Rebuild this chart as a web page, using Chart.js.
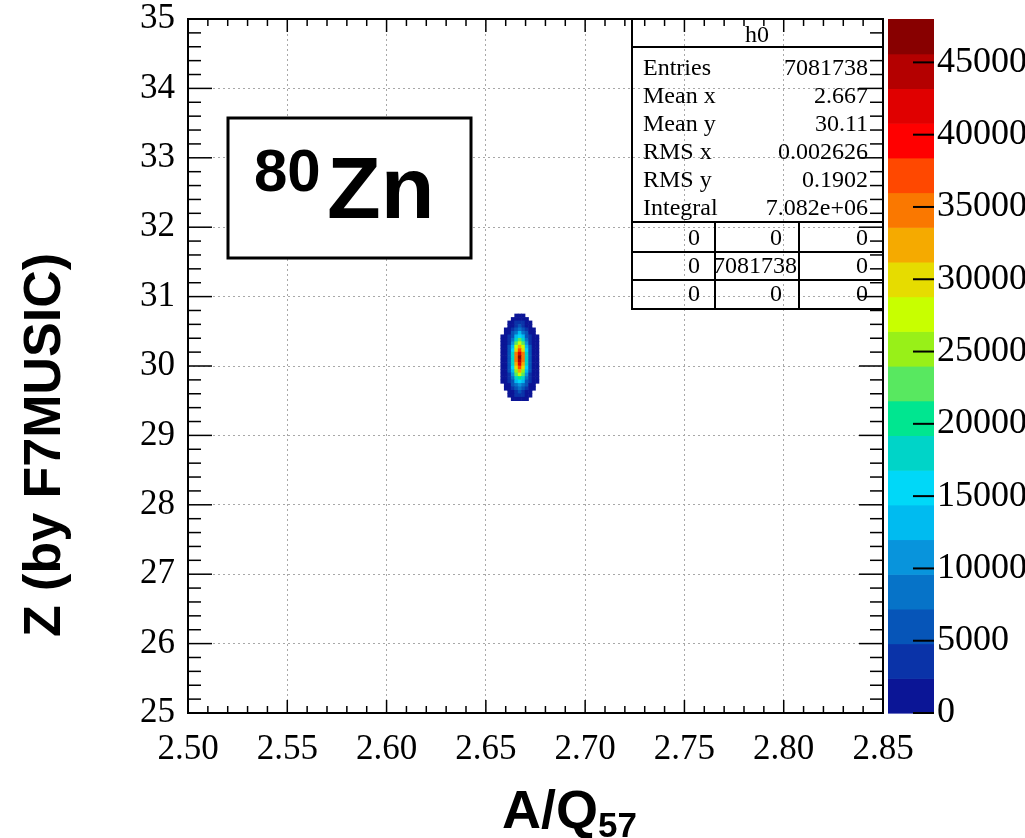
<!DOCTYPE html>
<html>
<head>
<meta charset="utf-8">
<title>80Zn PID</title>
<script src="https://cdn.jsdelivr.net/npm/chart.js@4.4.1/dist/chart.umd.min.js"></script>
<style>
    html, body { margin: 0; padding: 0; background: #fff; }
    #grafico { display: block; }
</style>
</head>
<body>
<canvas id="grafico" width="1025" height="838"></canvas>
<script>
// bin centres of the filled part of the histogram
const xCenters = [2.658375, 2.660125, 2.661875, 2.663625, 2.665375, 2.667125, 2.668875, 2.670625, 2.672375, 2.674125, 2.675875];
const yCenters = [30.725, 30.675, 30.625, 30.575, 30.525, 30.475, 30.425, 30.375, 30.325, 30.275, 30.225, 30.175, 30.125,
                  30.075, 30.025, 29.975, 29.925, 29.875, 29.825, 29.775, 29.725, 29.675, 29.625, 29.575, 29.525];
const binW = 0.00175;
const binH = 0.05;

// counts per bin, rows follow yCenters (top to bottom), columns follow xCenters
const counts = [
    [0, 0, 0, 0, 800, 1200, 800, 0, 0, 0, 0],
    [0, 0, 0, 600, 1500, 2000, 1500, 600, 0, 0, 0],
    [0, 0, 400, 1200, 2600, 3300, 2600, 1200, 400, 0, 0],
    [0, 0, 700, 2000, 4200, 5300, 4200, 2000, 700, 0, 0],
    [0, 300, 1100, 3200, 6500, 8200, 6500, 3200, 1100, 300, 0],
    [0, 500, 1700, 4800, 9400, 12000, 9400, 4800, 1700, 500, 0],
    [200, 700, 2400, 6800, 13200, 16600, 13200, 6800, 2400, 700, 200],
    [300, 1000, 3200, 9000, 17500, 22000, 17500, 9000, 3200, 1000, 300],
    [400, 1300, 4100, 11300, 22000, 27500, 22000, 11300, 4100, 1300, 400],
    [500, 1600, 5000, 13500, 26500, 33000, 26500, 13500, 5000, 1600, 500],
    [600, 1900, 5800, 15600, 30500, 38000, 30500, 15600, 5800, 1900, 600],
    [700, 2100, 6400, 17200, 33800, 42000, 33800, 17200, 6400, 2100, 700],
    [700, 2200, 6700, 18000, 35500, 47500, 35500, 18000, 6700, 2200, 700],
    [700, 2200, 6600, 17800, 35000, 44500, 35000, 17800, 6600, 2200, 700],
    [700, 2100, 6300, 17000, 33200, 41500, 33200, 17000, 6300, 2100, 700],
    [600, 1900, 5700, 15400, 30000, 37500, 30000, 15400, 5700, 1900, 600],
    [500, 1700, 5000, 13400, 26200, 32500, 26200, 13400, 5000, 1700, 500],
    [400, 1400, 4200, 11200, 21800, 27000, 21800, 11200, 4200, 1400, 400],
    [300, 1100, 3300, 8900, 17200, 21500, 17200, 8900, 3300, 1100, 300],
    [200, 800, 2500, 6700, 13000, 16200, 13000, 6700, 2500, 800, 200],
    [0, 600, 1800, 4800, 9300, 11600, 9300, 4800, 1800, 600, 0],
    [0, 400, 1200, 3200, 6300, 7800, 6300, 3200, 1200, 400, 0],
    [0, 0, 700, 2000, 4000, 5000, 4000, 2000, 700, 0, 0],
    [0, 0, 400, 1200, 2400, 3000, 2400, 1200, 400, 0, 0],
    [0, 0, 0, 600, 1300, 1600, 1300, 600, 0, 0, 0]
];

const xRange = [2.50, 2.85];
const yRange = [25, 35];
const zMax = 48000;
const zTicks = [0, 5000, 10000, 15000, 20000, 25000, 30000, 35000, 40000, 45000];
const nLevels = 20;

const palette = ["#0b1596", "#0a33a8", "#0655b8", "#0673c8", "#0894dc", "#00bbf0", "#00d8f8", "#00d4c8", "#00e690", "#58e860",
                 "#98f018", "#c8ff00", "#e6dc00", "#f5aa00", "#fa7800", "#ff4800", "#ff0000", "#e00000", "#b40000", "#880000"];

const histName = "h0";
const statNames = ["Entries", "Mean x", "Mean y", "RMS x", "RMS y", "Integral"];
const statValues = ["7081738", "2.667", "30.11", "0.002626", "0.1902", "7.082e+06"];
const flowTable = [["0", "0", "0"], ["0", "7081738", "0"], ["0", "0", "0"]];

const serif = "'Liberation Serif', 'Times New Roman', serif";
const sans = "'Liberation Sans', Arial, sans-serif";

const puntos = [];
counts.forEach((fila, j) => {
    fila.forEach((v, i) => {
        if (v > 0) puntos.push({ x: xCenters[i], y: yCenters[j], v: v });
    });
});

const esMayorX = v => Math.round(v * 100) % 5 === 0;
const esMayorY = v => Math.abs(v - Math.round(v)) < 1e-6;

function colorNivel(v) {
    const k = Math.min(nLevels - 1, Math.floor(v / (zMax / nLevels)));
    return palette[k];
}

function linea(ctx, x0, y0, x1, y1) {
    ctx.beginPath();
    ctx.moveTo(x0, y0);
    ctx.lineTo(x1, y1);
    ctx.stroke();
}

const decoracion = {
    id: "decoracion",
    afterDraw(chart) {
        const ctx = chart.ctx;
        const a = chart.chartArea;
        const xs = chart.scales.x, ys = chart.scales.y, zs = chart.scales.z;
        ctx.save();

        // nucleus label box
        ctx.fillStyle = "#fff";
        ctx.fillRect(228, 118, 243, 140);
        ctx.strokeStyle = "#000";
        ctx.lineWidth = 3;
        ctx.strokeRect(228, 118, 243, 140);
        ctx.fillStyle = "#000";
        ctx.textAlign = "left";
        ctx.textBaseline = "alphabetic";
        ctx.font = "bold 60px " + sans;
        ctx.fillText("80", 254, 191);
        ctx.font = "bold 88px " + sans;
        ctx.fillText("Zn", 327, 218);

        // stats box
        const sL = 632, sT = a.top, sR = a.right, sB = 309;
        ctx.lineWidth = 2;
        ctx.strokeRect(sL, sT, sR - sL, sB - sT);
        linea(ctx, sL, 47, sR, 47);
        linea(ctx, sL, 222, sR, 222);
        linea(ctx, sL, 252, sR, 252);
        linea(ctx, sL, 280, sR, 280);
        linea(ctx, 715, 222, 715, sB);
        linea(ctx, 799, 222, 799, sB);
        ctx.font = "24px " + serif;
        ctx.textAlign = "center";
        ctx.fillText(histName, 757, 42);
        statNames.forEach((n, i) => {
            const yb = 75 + i * 28;
            ctx.textAlign = "left";
            ctx.fillText(n, 643, yb);
            ctx.textAlign = "right";
            ctx.fillText(statValues[i], 868, yb);
        });
        const colR = [700, 782, 868];
        flowTable.forEach((fila, r) => {
            const yb = 245 + r * 28;
            fila.forEach((t, c) => {
                ctx.textAlign = "right";
                const xr = t.length > 2 ? 797 : colR[c];
                ctx.fillText(t, xr, yb);
            });
        });

        // frame and inward ticks on all four sides
        ctx.strokeStyle = "#000";
        ctx.lineWidth = 2;
        ctx.strokeRect(a.left, a.top, a.right - a.left, a.bottom - a.top);
        ctx.lineWidth = 1.5;
        xs.ticks.forEach(t => {
            const p = xs.getPixelForValue(t.value);
            const l = esMayorX(t.value) ? 13 : 7;
            linea(ctx, p, a.bottom, p, a.bottom - l);
            linea(ctx, p, a.top, p, a.top + l);
        });
        ys.ticks.forEach(t => {
            const p = ys.getPixelForValue(t.value);
            const l = esMayorY(t.value) ? 24 : 13;
            linea(ctx, a.left, p, a.left + l, p);
            linea(ctx, a.right, p, a.right - l, p);
        });

        // colour bar
        const bL = a.right + 5, bR = a.right + 51;
        for (let k = 0; k < nLevels; k++) {
            const y0 = zs.getPixelForValue(k * zMax / nLevels);
            const y1 = zs.getPixelForValue((k + 1) * zMax / nLevels);
            ctx.fillStyle = palette[k];
            ctx.fillRect(bL, y1, bR - bL, y0 - y1 + 0.6);
        }
        ctx.lineWidth = 2;
        zs.ticks.forEach(t => {
            const p = zs.getPixelForValue(t.value);
            linea(ctx, bR - 21, p, bR, p);
        });

        // axis titles
        ctx.fillStyle = "#000";
        ctx.font = "bold 52px " + sans;
        ctx.save();
        ctx.translate(46, 445);
        ctx.rotate(-Math.PI / 2);
        ctx.textAlign = "center";
        ctx.textBaseline = "middle";
        ctx.fillText("Z (by F7MUSIC)", 0, 0);
        ctx.restore();
        ctx.textAlign = "left";
        ctx.textBaseline = "alphabetic";
        ctx.font = "bold 54px " + sans;
        ctx.fillText("A/Q", 502, 828);
        const wAQ = ctx.measureText("A/Q").width;
        ctx.font = "bold 35px " + sans;
        ctx.fillText("57", 502 + wAQ, 837);

        ctx.restore();
    }
};

const grafico = new Chart(document.getElementById("grafico").getContext("2d"), {
    type: "scatter",
    data: {
        datasets: [{
            label: histName,
            data: puntos,
            pointStyle: "rect",
            borderWidth: 0,
            backgroundColor: c => colorNivel(c.raw ? c.raw.v : 0),
            pointRadius: c => {
                const xs = c.chart.scales.x, ys = c.chart.scales.y;
                const w = Math.abs(xs.getPixelForValue(xRange[0] + binW) - xs.getPixelForValue(xRange[0]));
                const h = Math.abs(ys.getPixelForValue(yRange[0] + binH) - ys.getPixelForValue(yRange[0]));
                return (Math.max(w, h) + 0.6) / Math.SQRT2;
            },
            pointHoverRadius: 0
        }]
    },
    options: {
        responsive: false,
        animation: false,
        events: [],
        layout: { padding: { top: 19, left: 0, right: 0, bottom: 0 } },
        plugins: {
            legend: { display: false },
            tooltip: { enabled: false },
            title: { display: false }
        },
        scales: {
            x: {
                type: "linear",
                position: "bottom",
                min: xRange[0],
                max: xRange[1],
                z: 1,
                afterFit: s => { s.height = 125; s.paddingLeft = 0; s.paddingRight = 0; },
                ticks: {
                    stepSize: 0.01,
                    autoSkip: false,
                    maxRotation: 0,
                    minRotation: 0,
                    padding: 16,
                    color: "#000",
                    font: { family: serif, size: 35 },
                    callback: v => esMayorX(v) ? v.toFixed(2) : ""
                },
                grid: {
                    drawTicks: false,
                    color: c => (c.tick && esMayorX(c.tick.value)) ? "#a8a8a8" : "rgba(0,0,0,0)",
                    lineWidth: 1
                },
                border: { display: false, dash: [2, 3] }
            },
            y: {
                type: "linear",
                position: "left",
                min: yRange[0],
                max: yRange[1],
                z: 1,
                afterFit: s => { s.width = 188; s.paddingTop = 0; s.paddingBottom = 0; },
                ticks: {
                    stepSize: 0.2,
                    autoSkip: false,
                    padding: 13,
                    color: "#000",
                    font: { family: serif, size: 35 },
                    callback: v => esMayorY(v) ? String(Math.round(v)) : ""
                },
                grid: {
                    drawTicks: false,
                    color: c => (c.tick && esMayorY(c.tick.value)) ? "#a8a8a8" : "rgba(0,0,0,0)",
                    lineWidth: 1
                },
                border: { display: false, dash: [2, 3] }
            },
            z: {
                type: "linear",
                position: "right",
                min: 0,
                max: zMax,
                afterBuildTicks: s => { s.ticks = zTicks.map(v => ({ value: v })); },
                afterFit: s => { s.width = 142; s.paddingTop = 0; s.paddingBottom = 0; },
                ticks: {
                    autoSkip: false,
                    padding: 54,
                    color: "#000",
                    font: { family: serif, size: 36 },
                    callback: v => String(v)
                },
                grid: { display: false, drawTicks: false },
                border: { display: false }
            }
        }
    },
    plugins: [decoracion]
});
</script>
</body>
</html>
